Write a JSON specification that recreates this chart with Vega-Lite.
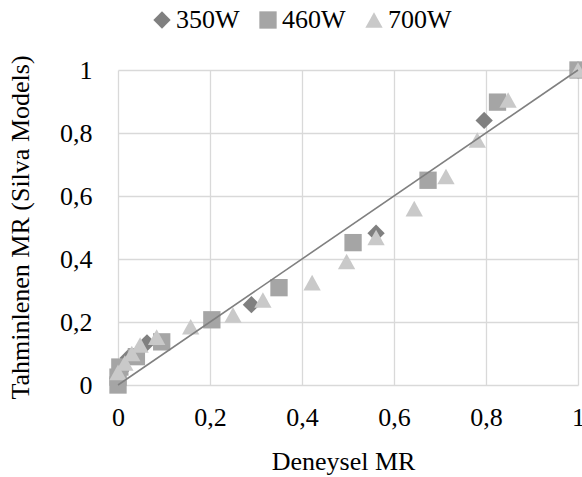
{
  "$schema": "https://vega.github.io/schema/vega-lite/v6.json",
  "autosize": "none",
  "width": 460,
  "height": 315,
  "padding": {"left": 118, "top": 70, "right": 4, "bottom": 92},
  "background": "white",
  "config": {
    "font": "'Liberation Serif', 'Times New Roman', Times, serif",
    "view": {"stroke": null},
    "axis": {
      "grid": true,
      "gridColor": "#d9d9d9",
      "gridWidth": 1.3,
      "domain": false,
      "ticks": false,
      "tickSize": 0,
      "labelFlush": false,
      "labelOverlap": false,
      "labelFont": "'Liberation Serif', 'Times New Roman', Times, serif",
      "labelFontSize": 26,
      "labelColor": "#000000",
      "titleFont": "'Liberation Serif', 'Times New Roman', Times, serif",
      "titleFontSize": 26,
      "titleFontWeight": "normal",
      "titleColor": "#000000"
    },
    "legend": {
      "labelFont": "'Liberation Serif', 'Times New Roman', Times, serif"
    }
  },
  "layer": [
    {
      "data": {
        "values": [
          {"x": 1.0, "y": 1.0, "series": "350W"},
          {"x": 0.796, "y": 0.84, "series": "350W"},
          {"x": 0.561, "y": 0.482, "series": "350W"},
          {"x": 0.29, "y": 0.255, "series": "350W"},
          {"x": 0.063, "y": 0.134, "series": "350W"},
          {"x": 0.022, "y": 0.086, "series": "350W"},
          {"x": 0.006, "y": 0.045, "series": "350W"},
          {"x": 0.0, "y": 0.02, "series": "350W"},
          {"x": 1.0, "y": 1.0, "series": "460W"},
          {"x": 0.825, "y": 0.898, "series": "460W"},
          {"x": 0.674, "y": 0.65, "series": "460W"},
          {"x": 0.511, "y": 0.452, "series": "460W"},
          {"x": 0.35, "y": 0.309, "series": "460W"},
          {"x": 0.204, "y": 0.207, "series": "460W"},
          {"x": 0.095, "y": 0.137, "series": "460W"},
          {"x": 0.04, "y": 0.09, "series": "460W"},
          {"x": 0.004, "y": 0.057, "series": "460W"},
          {"x": 0.0, "y": 0.025, "series": "460W"},
          {"x": 0.0, "y": 0.0, "series": "460W"},
          {"x": 1.0, "y": 1.0, "series": "700W"},
          {"x": 0.848, "y": 0.905, "series": "700W"},
          {"x": 0.781, "y": 0.778, "series": "700W"},
          {"x": 0.713, "y": 0.662, "series": "700W"},
          {"x": 0.644, "y": 0.56, "series": "700W"},
          {"x": 0.561, "y": 0.468, "series": "700W"},
          {"x": 0.497, "y": 0.392, "series": "700W"},
          {"x": 0.422, "y": 0.325, "series": "700W"},
          {"x": 0.315, "y": 0.27, "series": "700W"},
          {"x": 0.25, "y": 0.222, "series": "700W"},
          {"x": 0.158, "y": 0.185, "series": "700W"},
          {"x": 0.084, "y": 0.152, "series": "700W"},
          {"x": 0.048, "y": 0.127, "series": "700W"},
          {"x": 0.03, "y": 0.1, "series": "700W"},
          {"x": 0.015, "y": 0.07, "series": "700W"},
          {"x": 0.0, "y": 0.04, "series": "700W"}
        ]
      },
      "mark": {"type": "point", "filled": true, "opacity": 1, "size": 300, "strokeWidth": 0},
      "encoding": {
        "x": {
          "field": "x",
          "type": "quantitative",
          "scale": {"domain": [0, 1], "nice": false, "zero": false},
          "axis": {
            "title": "Deneysel MR",
            "values": [0, 0.2, 0.4, 0.6, 0.8, 1],
            "format": "~g",
            "labelExpr": "replace(datum.label, '.', ',')",
            "labelBaseline": "alphabetic",
            "labelPadding": 40,
            "titleBaseline": "alphabetic",
            "titleY": 84,
            "titleX": 225
          }
        },
        "y": {
          "field": "y",
          "type": "quantitative",
          "scale": {"domain": [0, 1], "nice": false, "zero": false},
          "axis": {
            "title": "Tahminlenen MR (Silva Models)",
            "values": [0, 0.2, 0.4, 0.6, 0.8, 1],
            "format": "~g",
            "labelExpr": "replace(datum.label, '.', ',')",
            "labelPadding": 26,
            "titleBaseline": "alphabetic",
            "titleX": -90,
            "titleY": 157
          }
        },
        "color": {
          "field": "series",
          "type": "nominal",
          "scale": {"domain": ["350W", "460W", "700W"], "range": ["#808080", "#a5a5a5", "#c9c9c9"]},
          "legend": {
            "title": null,
            "orient": "none",
            "direction": "horizontal",
            "legendX": 31,
            "legendY": -63,
            "labelFont": "'Liberation Serif', 'Times New Roman', Times, serif",
            "labelFontSize": 26,
            "labelColor": "#000000",
            "labelOffset": 1,
            "columnPadding": 15,
            "symbolSize": 300,
            "symbolOpacity": 1,
            "symbolStrokeWidth": 0
          }
        },
        "shape": {
          "field": "series",
          "type": "nominal",
          "scale": {"domain": ["350W", "460W", "700W"], "range": ["diamond", "square", "M0,-0.9L1,0.9L-1,0.9Z"]},
          "legend": {
            "title": null,
            "orient": "none",
            "direction": "horizontal",
            "legendX": 31,
            "legendY": -63,
            "labelFont": "'Liberation Serif', 'Times New Roman', Times, serif",
            "labelFontSize": 26,
            "labelColor": "#000000",
            "labelOffset": 1,
            "columnPadding": 15,
            "symbolSize": 300,
            "symbolOpacity": 1,
            "symbolStrokeWidth": 0
          }
        }
      }
    },
    {
      "data": {"values": [{"x": 0, "y": 0}, {"x": 1, "y": 1}]},
      "mark": {"type": "line", "color": "#808080", "strokeWidth": 1.6},
      "encoding": {
        "x": {"field": "x", "type": "quantitative"},
        "y": {"field": "y", "type": "quantitative"}
      }
    }
  ]
}
